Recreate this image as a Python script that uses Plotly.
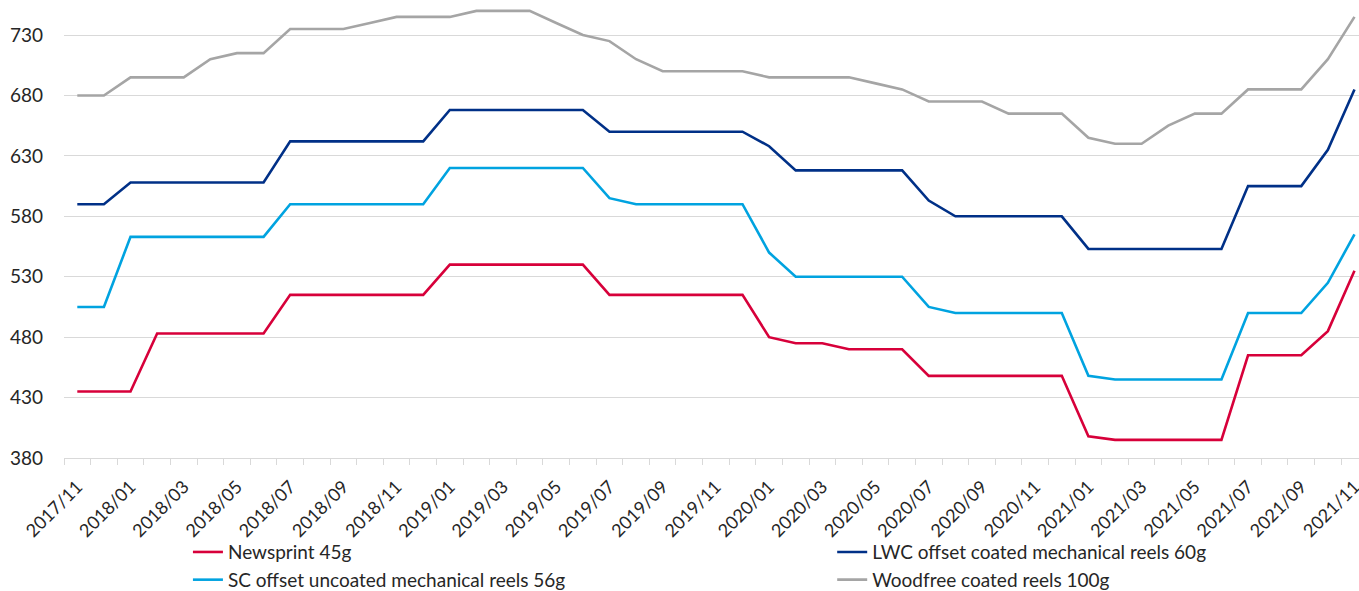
import plotly.graph_objects as go

months = ["2017/11", "2017/12",
          "2018/01", "2018/02", "2018/03", "2018/04", "2018/05", "2018/06",
          "2018/07", "2018/08", "2018/09", "2018/10", "2018/11", "2018/12",
          "2019/01", "2019/02", "2019/03", "2019/04", "2019/05", "2019/06",
          "2019/07", "2019/08", "2019/09", "2019/10", "2019/11", "2019/12",
          "2020/01", "2020/02", "2020/03", "2020/04", "2020/05", "2020/06",
          "2020/07", "2020/08", "2020/09", "2020/10", "2020/11", "2020/12",
          "2021/01", "2021/02", "2021/03", "2021/04", "2021/05", "2021/06",
          "2021/07", "2021/08", "2021/09", "2021/10", "2021/11"]

newsprint = [435, 435, 435, 483, 483, 483, 483, 483, 515, 515, 515, 515, 515, 515,
             540, 540, 540, 540, 540, 540, 515, 515, 515, 515, 515, 515,
             480, 475, 475, 470, 470, 470, 448, 448, 448, 448, 448, 448,
             398, 395, 395, 395, 395, 395, 465, 465, 465, 485, 535]

lwc = [590, 590, 608, 608, 608, 608, 608, 608, 642, 642, 642, 642, 642, 642,
       668, 668, 668, 668, 668, 668, 650, 650, 650, 650, 650, 650,
       638, 618, 618, 618, 618, 618, 593, 580, 580, 580, 580, 580,
       553, 553, 553, 553, 553, 553, 605, 605, 605, 635, 685]

sc = [505, 505, 563, 563, 563, 563, 563, 563, 590, 590, 590, 590, 590, 590,
      620, 620, 620, 620, 620, 620, 595, 590, 590, 590, 590, 590,
      550, 530, 530, 530, 530, 530, 505, 500, 500, 500, 500, 500,
      448, 445, 445, 445, 445, 445, 500, 500, 500, 525, 565]

woodfree = [680, 680, 695, 695, 695, 710, 715, 715, 735, 735, 735, 740, 745, 745,
            745, 750, 750, 750, 740, 730, 725, 710, 700, 700, 700, 700,
            695, 695, 695, 695, 690, 685, 675, 675, 675, 665, 665, 665,
            645, 640, 640, 655, 665, 665, 685, 685, 685, 710, 745]

y_ticks = [380, 430, 480, 530, 580, 630, 680, 730]

series = [
    ("Newsprint 45g", newsprint, "#d7003a", "legend"),
    ("LWC offset coated mechanical reels 60g", lwc, "#003087", "legend2"),
    ("SC offset uncoated mechanical reels 56g", sc, "#00a3e0", "legend"),
    ("Woodfree coated reels 100g", woodfree, "#a5a5a5", "legend2"),
]

idx = list(range(len(months)))
font = "Lato, Noto Sans, sans-serif"

fig = go.Figure()
for name, vals, color, leg in series:
    fig.add_trace(go.Scatter(x=idx, y=vals, name=name, mode="lines", legend=leg,
                             line=dict(color=color, width=2.6)))

legend_common = dict(orientation="v", y=-0.164, xanchor="left", yanchor="top",
                     font=dict(size=19, family=font, color="#262626"),
                     tracegroupgap=0, bgcolor="rgba(0,0,0,0)")

label_idx = idx[::2]
fig.update_layout(
    width=1359, height=591,
    margin=dict(l=64, r=0, t=0, b=133, autoexpand=False),
    paper_bgcolor="white", plot_bgcolor="white",
    font=dict(family=font, color="#262626"),
    showlegend=True,
    legend=dict(x=0.0957, **legend_common),
    legend2=dict(x=0.5932, **legend_common),
    xaxis=dict(range=[-0.5, len(months) - 1 + 0.17],
               tickmode="array", tickvals=label_idx,
               ticktext=[months[i] for i in label_idx],
               tickangle=-45, ticks="", showgrid=False, zeroline=False,
               showline=True, linecolor="#d9d9d9", linewidth=1.3,
               ticklabelstandoff=10, ticklabeloverflow="allow",
               tickfont=dict(size=18, family=font, color="#262626"),
               minor=dict(tick0=-0.5, dtick=1, ticks="outside", ticklen=6,
                          tickcolor="#d9d9d9", tickwidth=1.3, showgrid=False)),
    yaxis=dict(range=[380, 759], tickmode="array", tickvals=y_ticks,
               showgrid=True, gridcolor="#d9d9d9", gridwidth=1.3,
               zeroline=False, showline=False, ticks="",
               ticklabelstandoff=20,
               tickfont=dict(size=19, family=font, color="#262626")),
)

fig.write_html("out.html", config={"displayModeBar": False},
               post_script="document.body.style.margin='0';document.body.style.overflow='hidden';")
